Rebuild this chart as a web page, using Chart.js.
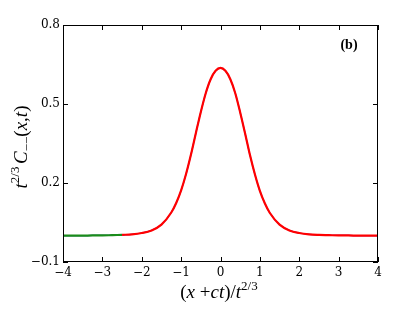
<!DOCTYPE html>
<html>
<head>
<meta charset="utf-8">
<script src="https://cdn.jsdelivr.net/npm/chart.js@4"></script>
<style>
  html, body { margin: 0; padding: 0; background: #fff; }
  #wrap { width: 415px; height: 312px; }
</style>
</head>
<body>
<div id="wrap"><canvas id="scalingChart" width="415" height="312"></canvas></div>
<script>
// --- DATA ---
const xValues = [-4, -3.75, -3.5, -3.25, -3, -2.75, -2.5, -2.25, -2, -1.75, -1.5, -1.25, -1.125, -1, -0.875, -0.75,
                 -0.625, -0.5, -0.375, -0.25, -0.125, 0, 0.125, 0.25, 0.375, 0.5, 0.625, 0.75, 0.875, 1, 1.125, 1.25,
                 1.5, 1.75, 2, 2.25, 2.5, 2.75, 3, 3.25, 3.5, 3.75, 4];
const profile = [0.000, 0.000, 0.000, 0.001, 0.001, 0.002, 0.003, 0.005, 0.010, 0.020, 0.042, 0.088, 0.124, 0.172, 0.234, 0.308,
                 0.390, 0.470, 0.541, 0.594, 0.626, 0.637, 0.626, 0.594, 0.541, 0.468, 0.388, 0.305, 0.232, 0.170, 0.123, 0.087,
                 0.042, 0.020, 0.010, 0.005, 0.003, 0.002, 0.001, 0.001, 0.000, 0.000, 0.000];
const greenEnd = -2.5;     // green run visible left of this
const redStart = -2.5;     // red run starts here
const xTicks = [-4, -3, -2, -1, 0, 1, 2, 3, 4];
const yTicks = [-0.1, 0.2, 0.5, 0.8];
const panelLabel = '(b)';

const pts = xValues.map((x, i) => ({ x: x, y: profile[i] }));
const greenPts = pts.filter(p => p.x <= greenEnd);
const redPts = pts.filter(p => p.x >= redStart);

const minus = s => String(s).replace('-', '\u2212');

// draws a line of mixed italic / superscript text centred at (cx, cy)
function drawRich(ctx, segs, cx, cy) {
    const base = 19;
    let total = 0;
    segs.forEach(s => {
        s.size = s.sup || s.sub ? 13 : base;
        ctx.font = (s.it ? 'italic ' : '') + s.size + 'px "Liberation Serif", serif';
        s.w = ctx.measureText(s.t).width;
        total += s.w;
    });
    let x = cx - total / 2;
    ctx.textBaseline = 'alphabetic';
    ctx.textAlign = 'left';
    segs.forEach(s => {
        ctx.font = (s.it ? 'italic ' : '') + s.size + 'px "Liberation Serif", serif';
        const dy = s.sup ? -8 : (s.sub ? 4 : 0);
        ctx.fillText(s.t, x, cy + 6 + dy);
        x += s.w;
    });
}

const framePlugin = {
    id: 'frame',
    afterDraw(chart) {
        const ctx = chart.ctx;
        const a = chart.chartArea;
        const xs = chart.scales.x, ys = chart.scales.y;
        ctx.save();
        ctx.strokeStyle = '#000';
        ctx.lineWidth = 1;
        ctx.strokeRect(Math.round(a.left) + 0.5, Math.round(a.top) + 0.5,
                       Math.round(a.right - a.left) - 1, Math.round(a.bottom - a.top) - 1);
        // inward ticks on all four sides
        ctx.beginPath();
        xTicks.forEach(v => {
            const px = Math.round(xs.getPixelForValue(v)) + 0.5;
            ctx.moveTo(px, a.bottom); ctx.lineTo(px, a.bottom - 5);
            ctx.moveTo(px, a.top); ctx.lineTo(px, a.top + 5);
        });
        yTicks.forEach(v => {
            const py = Math.round(ys.getPixelForValue(v)) + 0.5;
            ctx.moveTo(a.left, py); ctx.lineTo(a.left + 5, py);
            ctx.moveTo(a.right, py); ctx.lineTo(a.right - 5, py);
        });
        ctx.stroke();

        ctx.fillStyle = '#000';
        // panel label
        ctx.font = 'bold 14px "Liberation Serif", serif';
        ctx.textAlign = 'center';
        ctx.textBaseline = 'middle';
        ctx.fillText(panelLabel, 349, 45);

        // x-axis title
        drawRich(ctx, [
            { t: '(' }, { t: 'x', it: true }, { t: ' +' }, { t: 'ct', it: true }, { t: ')/' },
            { t: 't', it: true }, { t: '2/3', sup: true }
        ], 219, 292);

        // y-axis title
        ctx.translate(21, 147);
        ctx.rotate(-Math.PI / 2);
        drawRich(ctx, [
            { t: 't', it: true }, { t: '2/3\u2009', sup: true }, { t: 'C', it: true }, { t: '\u2212\u2212', sub: true },
            { t: '(' }, { t: 'x', it: true }, { t: ',' }, { t: 't', it: true }, { t: ')' }
        ], 0, 0);
        ctx.restore();
    }
};

const ctx = document.getElementById('scalingChart').getContext('2d');
new Chart(ctx, {
    type: 'line',
    data: {
        datasets: [
            { label: 'red', data: redPts, borderColor: '#ff0000', borderWidth: 2.2, order: 1 },
            { label: 'green', data: greenPts, borderColor: '#1a8c1a', borderWidth: 2.2, order: 2 },
            { label: 'blue', data: pts, borderColor: '#2020ff', borderWidth: 1.2, order: 3 }
        ]
    },
    options: {
        responsive: false,
        animation: false,
        events: [],
        layout: { padding: { top: 25, right: 37, left: 0, bottom: 0 } },
        elements: {
            point: { radius: 0 },
            line: { cubicInterpolationMode: 'monotone', fill: false }
        },
        plugins: { legend: { display: false }, tooltip: { enabled: false } },
        scales: {
            x: {
                type: 'linear',
                min: -4, max: 4,
                afterFit: s => { s.height = 50; },
                afterBuildTicks: s => { s.ticks = xTicks.map(v => ({ value: v })); },
                grid: { display: false, drawTicks: false },
                border: { display: false },
                ticks: {
                    padding: 4,
                    color: '#000',
                    maxRotation: 0,
                    font: { family: '"DejaVu Serif", serif', size: 12 },
                    callback: v => minus(v)
                }
            },
            y: {
                type: 'linear',
                min: -0.1, max: 0.8,
                afterFit: s => { s.width = 63; },
                afterBuildTicks: s => { s.ticks = yTicks.map(v => ({ value: v })); },
                grid: { display: false, drawTicks: false },
                border: { display: false },
                ticks: {
                    padding: 3,
                    color: '#000',
                    font: { family: '"DejaVu Serif", serif', size: 12 },
                    callback: v => minus(v.toFixed(1))
                }
            }
        }
    },
    plugins: [framePlugin]
});
</script>
</body>
</html>
